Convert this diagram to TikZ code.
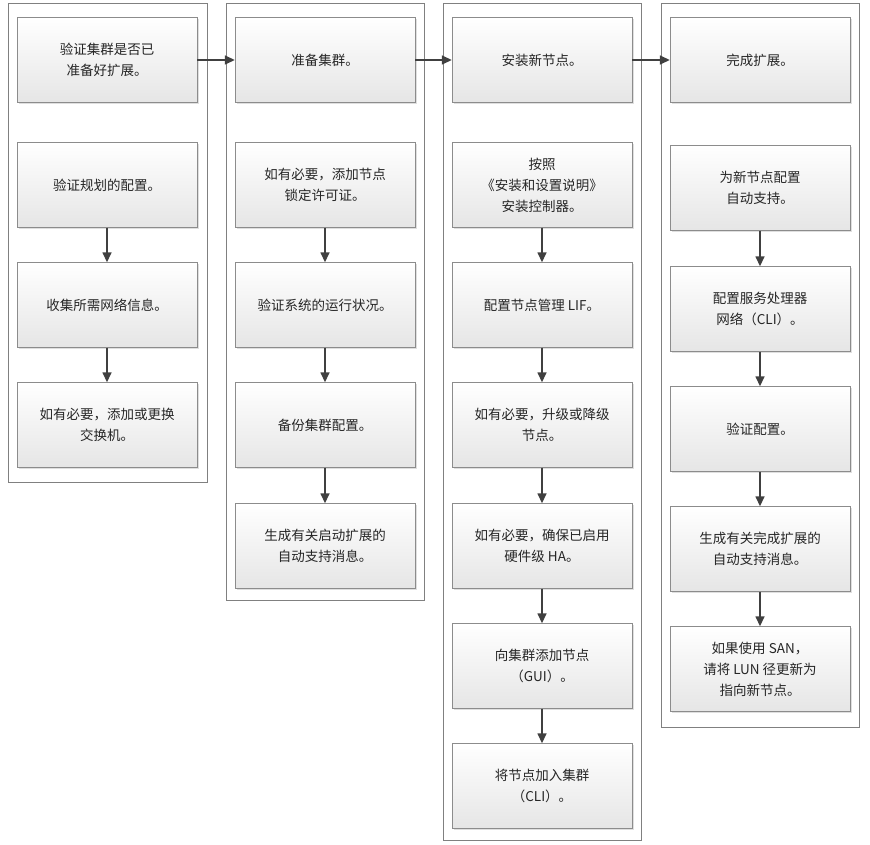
\documentclass[tikz,border=0pt]{standalone}
\usepackage{fontspec}
\setmainfont{Noto Sans CJK SC}
\usetikzlibrary{arrows.meta,shadows}
\begin{document}
\begin{tikzpicture}[x=1pt,y=-1pt,
 bx/.style={draw=black!45,top color=white,bottom color=black!10,minimum width=180pt,minimum height=85pt,align=center,text=black!85,font=\fontsize{13.5}{21}\selectfont,drop shadow={shadow xshift=1.5pt,shadow yshift=-1.5pt,opacity=0.25}},
 lane/.style={draw=black!50,line width=0.8pt},
 ar/.style={-{Triangle[length=10pt,width=9pt]},line width=1.5pt,draw=black!75}]
\useasboundingbox (0,0) rectangle (870,845);
\draw[lane] (8,3) rectangle (207,482);
\draw[lane] (226,3) rectangle (424,600);
\draw[lane] (443,3) rectangle (641,840);
\draw[lane] (661,3) rectangle (859,727);
% col1
\node[bx] (a1) at (107,60) {验证集群是否已\\准备好扩展。};
\node[bx] (a2) at (107,185) {验证规划的配置。};
\node[bx] (a3) at (107,305) {收集所需网络信息。};
\node[bx] (a4) at (107,425) {如有必要，添加或更换\\交换机。};
% col2
\node[bx] (b1) at (325,60) {准备集群。};
\node[bx] (b2) at (325,185) {如有必要，添加节点\\锁定许可证。};
\node[bx] (b3) at (325,305) {验证系统的运行状况。};
\node[bx] (b4) at (325,425) {备份集群配置。};
\node[bx] (b5) at (325,546) {生成有关启动扩展的\\自动支持消息。};
% col3
\node[bx] (c1) at (542,60) {安装新节点。};
\node[bx] (c2) at (542,185) {按照\\《安装和设置说明》\\安装控制器。};
\node[bx] (c3) at (542,305) {配置节点管理 LIF。};
\node[bx] (c4) at (542,425) {如有必要，升级或降级\\节点。};
\node[bx] (c5) at (542,546) {如有必要，确保已启用\\硬件级 HA。};
\node[bx] (c6) at (542,666) {向集群添加节点\\（GUI）。};
\node[bx] (c7) at (542,786) {将节点加入集群\\（CLI）。};
% col4
\node[bx] (d1) at (760,60) {完成扩展。};
\node[bx] (d2) at (760,188) {为新节点配置\\自动支持。};
\node[bx] (d3) at (760,309) {配置服务处理器\\网络（CLI）。};
\node[bx] (d4) at (760,429) {验证配置。};
\node[bx] (d5) at (760,549) {生成有关完成扩展的\\自动支持消息。};
\node[bx] (d6) at (760,669) {如果使用 SAN，\\请将 LUN 径更新为\\指向新节点。};
\draw[ar] (a1) -- (b1);
\draw[ar] (b1) -- (c1);
\draw[ar] (c1) -- (d1);
\draw[ar] (a2) -- (a3); \draw[ar] (a3) -- (a4);
\draw[ar] (b2) -- (b3); \draw[ar] (b3) -- (b4); \draw[ar] (b4) -- (b5);
\draw[ar] (c2) -- (c3); \draw[ar] (c3) -- (c4); \draw[ar] (c4) -- (c5); \draw[ar] (c5) -- (c6); \draw[ar] (c6) -- (c7);
\draw[ar] (d2) -- (d3); \draw[ar] (d3) -- (d4); \draw[ar] (d4) -- (d5); \draw[ar] (d5) -- (d6);
\end{tikzpicture}
\end{document}
